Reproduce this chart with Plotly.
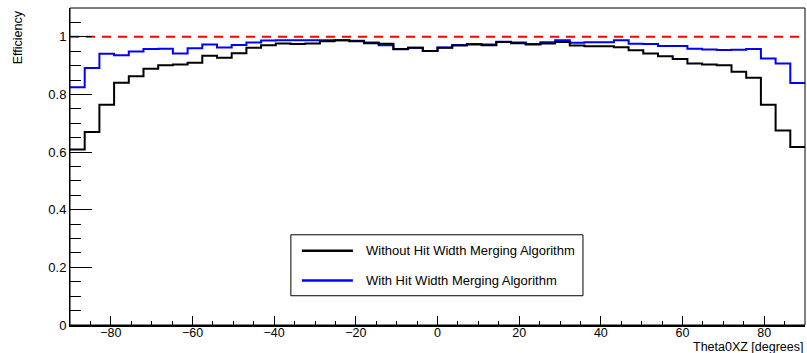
import plotly.graph_objects as go

# Histogram binning: 50 bins over Theta0XZ in [-90, 90] degrees
theta_min, theta_max, n_bins = -90.0, 90.0, 50
bin_width = (theta_max - theta_min) / n_bins
bin_edges = [theta_min + i * bin_width for i in range(n_bins + 1)]

# Per-bin hit-finding efficiency
eff_without = [
    0.609, 0.670, 0.764, 0.841, 0.863, 0.889, 0.901, 0.904, 0.910, 0.934,
    0.927, 0.943, 0.962, 0.971, 0.977, 0.975, 0.977, 0.985, 0.988, 0.985,
    0.978, 0.976, 0.958, 0.962, 0.951, 0.962, 0.970, 0.973, 0.971, 0.982,
    0.978, 0.973, 0.977, 0.982, 0.970, 0.967, 0.967, 0.964, 0.953, 0.942,
    0.933, 0.923, 0.907, 0.904, 0.901, 0.879, 0.858, 0.764, 0.675, 0.618,
]
eff_with = [
    0.825, 0.892, 0.941, 0.936, 0.949, 0.958, 0.959, 0.942, 0.960, 0.973,
    0.963, 0.972, 0.980, 0.987, 0.988, 0.988, 0.988, 0.988, 0.988, 0.986,
    0.980, 0.971, 0.957, 0.962, 0.951, 0.963, 0.972, 0.975, 0.973, 0.983,
    0.980, 0.975, 0.981, 0.988, 0.979, 0.981, 0.981, 0.988, 0.976, 0.975,
    0.968, 0.968, 0.959, 0.956, 0.954, 0.955, 0.958, 0.925, 0.907, 0.840,
]

series_names = ["Without Hit Width Merging Algorithm", "With Hit Width Merging Algorithm"]
series_colors = ["black", "blue"]
reference_level = 1.0

x_title = "Theta0XZ [degrees]"
y_title = "Efficiency"
y_max = 1.1

FONT = "Liberation Sans, Arial, Helvetica, sans-serif"


def step_trace(values, name, color):
    # Draw a histogram outline: one horizontal segment per bin
    xs = list(bin_edges)
    ys = list(values) + [values[-1]]
    return go.Scatter(x=xs, y=ys, mode="lines", line_shape="hv",
                      line=dict(color=color, width=2), name=name,
                      showlegend=False, hoverinfo="skip")


fig = go.Figure()
# blue drawn first so the black outline sits on top where they overlap
fig.add_trace(step_trace(eff_with, series_names[1], series_colors[1]))
fig.add_trace(step_trace(eff_without, series_names[0], series_colors[0]))
fig.add_trace(go.Scatter(x=[theta_min, theta_max], y=[reference_level, reference_level],
                         mode="lines", line=dict(color="red", width=2, dash="9px,7px"),
                         showlegend=False, hoverinfo="skip"))

fig.update_layout(
    width=807, height=353,
    margin=dict(l=70, r=2, t=8, b=28),
    paper_bgcolor="white", plot_bgcolor="white",
    font=dict(family=FONT, size=13, color="black"),
)

fig.update_xaxes(
    range=[theta_min, theta_max], showgrid=False, zeroline=False,
    showline=True, linecolor="black", linewidth=2,
    ticks="inside", ticklen=9, tickwidth=1, tickcolor="black",
    tick0=0, dtick=20, ticklabelstandoff=-5,
    minor=dict(ticks="inside", ticklen=4, tickwidth=1, tickcolor="black", dtick=5, showgrid=False),
    tickfont=dict(size=12.5),
)
fig.update_yaxes(
    range=[0, y_max], showgrid=False, zeroline=False,
    showline=True, linecolor="black", linewidth=1,
    ticks="inside", ticklen=22, tickwidth=1, tickcolor="black",
    tick0=0, dtick=0.2,
    minor=dict(ticks="inside", ticklen=11, tickwidth=1, tickcolor="black", dtick=0.05, showgrid=False),
    tickfont=dict(size=13),
)

# Frame around the plotting area
fig.add_shape(type="rect", xref="paper", yref="paper", x0=0, y0=0, x1=1, y1=1,
              line=dict(color="black", width=1), fillcolor="rgba(0,0,0,0)", layer="above")

# Axis titles, ROOT style: x title right-aligned, y title at the top
fig.add_annotation(text=x_title, xref="paper", yref="paper", x=1.0, y=-0.069,
                   xanchor="right", yanchor="middle", showarrow=False,
                   font=dict(size=12.5))
fig.add_annotation(text=y_title, xref="paper", yref="paper", x=-0.0704, y=1.0,
                   xanchor="center", yanchor="top", textangle=-90, showarrow=False,
                   font=dict(size=12.5))

# Legend box
lx0, lx1, ly0, ly1 = 0.3005, 0.6979, 0.0923, 0.2846
fig.add_shape(type="rect", xref="paper", yref="paper", x0=lx0, y0=ly0, x1=lx1, y1=ly1,
              line=dict(color="black", width=1), fillcolor="white", layer="above")
entry_y = [0.2342, 0.1406]
for name, color, ey in zip(series_names, series_colors, entry_y):
    fig.add_shape(type="line", xref="paper", yref="paper", x0=0.3155, x1=0.3849,
                  y0=ey, y1=ey, line=dict(color=color, width=2.5), layer="above")
    fig.add_annotation(text=name, xref="paper", yref="paper", x=0.3998, y=ey,
                       xanchor="left", yanchor="middle", showarrow=False,
                       font=dict(size=13))

fig.write_html("out.html")
